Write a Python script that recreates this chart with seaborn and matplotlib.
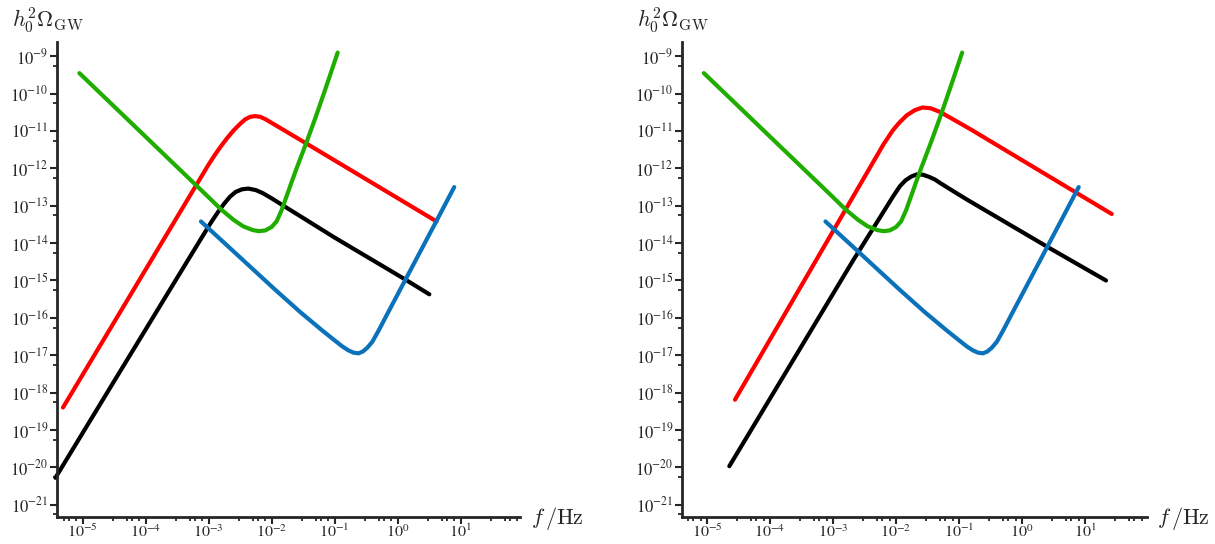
import numpy as np
import pandas as pd
import seaborn as sns
import matplotlib.pyplot as plt
from matplotlib.ticker import LogLocator, FixedLocator, FuncFormatter, NullFormatter

# values, as log10(f/Hz) and log10(h0^2 Omega_GW)
green_logf = [-5.05, -4.5, -4.0, -3.5, -3.0, -2.8, -2.6, -2.45, -2.3, -2.2, -2.1, -2.0, -1.92,
              -1.84, -1.76, -1.68, -1.6, -1.44, -1.3, -1.15, -1.05, -0.95]
green_logom = [-9.45, -10.34, -11.15, -11.96, -12.77, -13.10, -13.38, -13.55, -13.65, -13.68,
               -13.66, -13.57, -13.42, -13.12, -12.74, -12.36, -11.99, -11.28, -10.63, -9.90,
               -9.40, -8.9]

blue_logf = [-3.12, -2.5, -1.94, -1.548, -1.2, -1.0, -0.88, -0.78, -0.7, -0.62, -0.55, -0.48,
             -0.4, -0.3, -0.17, 0.15, 0.62, 0.9]
blue_logom = [-13.42, -14.38, -15.25, -15.84, -16.33, -16.60, -16.76, -16.87, -16.93, -16.95,
              -16.90, -16.80, -16.64, -16.34, -15.92, -14.90, -13.40, -12.5]

# left panel
red1_logf = [-5.31, -4.5, -3.8, -3.0, -2.9, -2.8, -2.7, -2.6, -2.5, -2.42, -2.34, -2.26, -2.18,
             -2.1, -2.02, -1.8, -1.44, 0.62]
red1_logom = [-18.40, -16.12, -14.15, -11.90, -11.64, -11.40, -11.18, -10.98, -10.81, -10.69,
              -10.62, -10.60, -10.62, -10.68, -10.76, -10.98, -11.34, -13.42]
black1_logf = [-5.43, -4.5, -3.6, -3.1, -2.95, -2.85, -2.75, -2.66, -2.57, -2.47, -2.37, -2.25,
               -2.13, -1.98, -1.81, -1.6, -1.0, 0.09, 0.505]
black1_logom = [-20.28, -17.70, -15.21, -13.83, -13.42, -13.17, -12.94, -12.76, -12.63, -12.56,
                -12.54, -12.58, -12.67, -12.82, -13.00, -13.22, -13.85, -14.94, -15.37]

# right panel
red2_logf = [-4.556, -3.8, -3.0, -2.5, -2.2, -2.05, -1.95, -1.83, -1.7, -1.58, -1.45, -1.30,
             -1.1, -0.8, 1.424]
red2_logom = [-18.19, -16.0, -13.68, -12.23, -11.36, -10.98, -10.78, -10.58, -10.44, -10.37,
              -10.39, -10.49, -10.68, -10.97, -13.22]
black2_logf = [-4.646, -3.6, -2.68, -2.25, -2.05, -1.94, -1.85, -1.76, -1.67, -1.57, -1.47,
               -1.38, -1.30, -1.1, -0.878, 0.444, 1.333]
black2_logom = [-19.97, -17.04, -14.46, -13.30, -12.76, -12.48, -12.32, -12.22, -12.16, -12.17,
                -12.23, -12.30, -12.39, -12.60, -12.83, -14.14, -15.0]

# tick decades
x_decades = [-5, -4, -3, -2, -1, 0, 1]
y_decades = list(range(-21, -8))

colors = {'red': '#ff0000', 'black': '#000000', 'green': '#1fae00', 'blue': '#0a72ba'}


def make_df(curves):
    rows = []
    for name, lf, lo in curves:
        for a, b in zip(lf, lo):
            rows.append({'curve': name, 'f': 10 ** a, 'om': 10 ** b})
    return pd.DataFrame(rows)


panels = [
    make_df([('red', red1_logf, red1_logom), ('black', black1_logf, black1_logom),
             ('green', green_logf, green_logom), ('blue', blue_logf, blue_logom)]),
    make_df([('red', red2_logf, red2_logom), ('black', black2_logf, black2_logom),
             ('green', green_logf, green_logom), ('blue', blue_logf, blue_logom)]),
]

sns.set_style('ticks')
plt.rcParams['font.family'] = ['Liberation Serif', 'DejaVu Serif']
plt.rcParams['mathtext.fontset'] = 'stix'

fig = plt.figure(figsize=(12.15, 5.44), dpi=100)
boxes = [[57 / 1215, 0.0496, 463 / 1215, 0.873], [682 / 1215, 0.0496, 465 / 1215, 0.873]]
xlims = [(10 ** -5.405, 10 ** 1.944), (10 ** -5.397, 10 ** 1.984)]
label_x = [12 / 1215, 637 / 1215]
flabel_x = [531 / 1215, 1157 / 1215]

fmt = FuncFormatter(lambda v, p: r'$10^{%d}$' % round(np.log10(v)))

for i, df in enumerate(panels):
    ax = fig.add_axes(boxes[i])
    sns.lineplot(data=df, x='f', y='om', hue='curve', palette=colors, sort=False,
                 estimator=None, legend=False, linewidth=3.0, ax=ax, clip_on=False)
    ax.set_xscale('log')
    ax.set_yscale('log')
    ax.set_xlim(*xlims[i])
    ax.set_ylim(10 ** -21.33, 10 ** -8.62)
    ax.xaxis.set_major_locator(FixedLocator([10.0 ** k for k in x_decades]))
    ax.xaxis.set_minor_locator(LogLocator(base=10, subs=(3, 5, 6, 8), numticks=20))
    ax.yaxis.set_major_locator(FixedLocator([10.0 ** k for k in y_decades]))
    ax.yaxis.set_minor_locator(LogLocator(base=10, subs=(5.5,), numticks=20))
    ax.xaxis.set_major_formatter(fmt)
    ax.yaxis.set_major_formatter(fmt)
    ax.xaxis.set_minor_formatter(NullFormatter())
    ax.yaxis.set_minor_formatter(NullFormatter())
    ax.tick_params(which='major', direction='out', length=5, width=1.5, labelsize=12, pad=1)
    ax.tick_params(which='minor', direction='out', length=3, width=1.3)
    ax.tick_params(axis='x', which='major', pad=0, labelsize=11.5)
    for s in ['top', 'right']:
        ax.spines[s].set_visible(False)
    for s in ['left', 'bottom']:
        ax.spines[s].set_linewidth(2)
    ax.set_xlabel('')
    ax.set_ylabel('')
    fig.text(label_x[i], 1 - 20 / 544, r'$h_0^2\Omega_{\rm GW}$', fontsize=16,
             ha='left', va='center', math_fontfamily='cm')
    fig.text(flabel_x[i], 1 - 518 / 544, r'$f\,/\mathrm{Hz}$', fontsize=16,
             ha='left', va='center', math_fontfamily='cm')

fig.savefig('out.png', dpi=100)
